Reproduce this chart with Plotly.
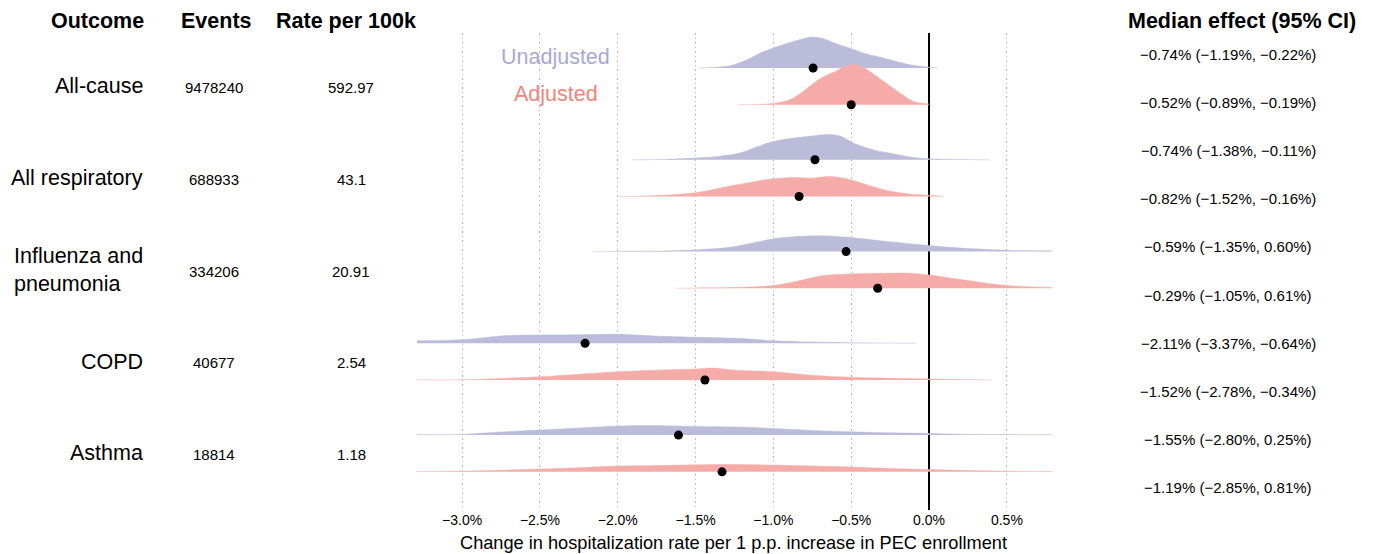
import plotly.graph_objects as go

# ---------------- data ----------------
outcomes = ["All-cause", "All respiratory", "Influenza and<br>pneumonia", "COPD", "Asthma"]
events = ["9478240", "688933", "334206", "40677", "18814"]
rates = ["592.97", "43.1", "20.91", "2.54", "1.18"]
ci_labels = [
    "\u22120.74% (\u22121.19%, \u22120.22%)",
    "\u22120.52% (\u22120.89%, \u22120.19%)",
    "\u22120.74% (\u22121.38%, \u22120.11%)",
    "\u22120.82% (\u22121.52%, \u22120.16%)",
    "\u22120.59% (\u22121.35%, 0.60%)",
    "\u22120.29% (\u22121.05%, 0.61%)",
    "\u22122.11% (\u22123.37%, \u22120.64%)",
    "\u22121.52% (\u22122.78%, \u22120.34%)",
    "\u22121.55% (\u22122.80%, 0.25%)",
    "\u22121.19% (\u22122.85%, 0.81%)",
]
tick_vals = [-3.0, -2.5, -2.0, -1.5, -1.0, -0.5, 0.0, 0.5]
tick_text = ["\u22123.0%", "\u22122.5%", "\u22122.0%", "\u22121.5%", "\u22121.0%", "\u22120.5%", "0.0%", "0.5%"]

# point estimates (dots), per outcome
dot_unadj = [-0.745, -0.733, -0.533, -2.21, -1.61]
dot_adj = [-0.50, -0.835, -0.33, -1.44, -1.33]

# density curves (x in %, relative density height)
unadj_x = [
    [-1.48, -1.28, -1.17, -1.07, -1.0, -0.89, -0.81, -0.745, -0.68, -0.59, -0.5, -0.40, -0.31, -0.23, -0.12, -0.015, 0.06],
    [-1.91, -1.69, -1.5, -1.36, -1.21, -1.11, -1.0, -0.87, -0.76, -0.64, -0.57, -0.49, -0.36, -0.23, -0.10, 0.0, 0.13, 0.39],
    [-2.16, -1.97, -1.65, -1.5, -1.28, -1.11, -1.0, -0.85, -0.68, -0.5, -0.31, -0.14, 0.0, 0.18, 0.5, 0.79],
    [-3.30, -3.0, -2.72, -2.5, -2.23, -2.0, -1.76, -1.5, -1.24, -1.0, -0.75, -0.5, -0.08],
    [-3.3, -3.0, -2.8, -2.5, -2.22, -2.0, -1.84, -1.5, -1.2, -1.0, -0.75, -0.5, -0.25, 0.0, 0.26, 0.5, 0.79],
]
unadj_h = [
    [0, 2.3, 8.3, 16, 20, 25.7, 29.3, 31, 29.3, 24, 19.3, 14, 10.7, 7.3, 3.3, 1, 0],
    [0, 0.5, 1.7, 3.3, 7, 12.7, 18.3, 21.7, 23.7, 25.3, 23.7, 17, 10, 6, 2.3, 1, 0.5, 0],
    [0, 0.3, 0.7, 1.7, 4.3, 9.3, 12.7, 15, 15.7, 14, 10.7, 8, 6, 3.7, 1.3, 0.7],
    [2.7, 3.7, 7.7, 8.3, 8.7, 9, 7.3, 6, 5, 2.7, 1.3, 0.7, 0],
    [0.5, 0.7, 2.7, 5, 7.3, 9, 9.7, 8.7, 8, 6.7, 4.7, 3.3, 2.3, 1.7, 0.7, 0.5, 0.3],
]
adj_x = [
    [-1.23, -1.0, -0.89, -0.83, -0.76, -0.70, -0.61, -0.51, -0.44, -0.36, -0.27, -0.18, -0.10, 0.0],
    [-2.0, -1.79, -1.5, -1.26, -1.04, -0.87, -0.76, -0.64, -0.53, -0.40, -0.27, -0.12, 0.03, 0.09],
    [-1.63, -1.5, -1.28, -1.0, -0.85, -0.68, -0.5, -0.29, -0.12, 0.0, 0.18, 0.5, 0.79],
    [-3.3, -3.0, -2.5, -2.0, -1.73, -1.5, -1.39, -1.24, -1.0, -0.75, -0.5, 0.0, 0.40],
    [-3.3, -3.0, -2.5, -2.22, -2.0, -1.74, -1.5, -1.26, -1.0, -0.75, -0.5, -0.25, 0.0, 0.26, 0.5, 0.79],
]
adj_h = [
    [0, 1.3, 5.3, 11, 19.3, 26, 32.7, 40, 38.7, 31, 21, 11, 3.3, 0.7],
    [0, 0.7, 3.7, 11, 17, 19, 18.3, 20, 17.7, 11.7, 6, 2.3, 1, 0],
    [0, 0.3, 0.7, 2.7, 7, 12.7, 14.3, 15, 15, 13.3, 9.3, 2.7, 1],
    [0.2, 0.3, 3.3, 8.3, 10, 11, 12, 9.7, 8.3, 4.7, 2.7, 1, 0],
    [0.2, 0.7, 2.7, 4.3, 5.7, 6.3, 7, 7.3, 6.7, 5.7, 4.7, 3.3, 2.3, 1.3, 0.7, 0.3],
]

# ---------------- style / layout ----------------
W, H = 1376, 554
FONT = "Liberation Sans, Arial, Helvetica, sans-serif"
UN_FILL, AD_FILL = "#BBBBDA", "#F5ACA8"
UN_TXT, AD_TXT = "#A8A8D4", "#F3827C"
GROUP_STEP, PAIR_OFF = 2.5, 1.0
HSCALE = 1 / 36.7          # density height -> y units


def px_x(p):
    return p / W


def px_y(p):
    return 1 - p / H


fig = go.Figure()

for k in range(len(outcomes)):
    for xs, hs, off, col in ((unadj_x[k], unadj_h[k], 0.0, UN_FILL),
                              (adj_x[k], adj_h[k], PAIR_OFF, AD_FILL)):
        base = -(k * GROUP_STEP + off)
        fig.add_trace(go.Scatter(x=[xs[0], xs[-1]], y=[base, base], mode="lines",
                                 line=dict(width=0, color=col), hoverinfo="skip",
                                 showlegend=False))
        fig.add_trace(go.Scatter(x=xs, y=[base + h * HSCALE for h in hs], mode="lines",
                                 line=dict(width=0.5, color=col, shape="spline", smoothing=0.9),
                                 fill="tonexty", fillcolor=col, hoverinfo="skip",
                                 showlegend=False))

# dots
dx, dy = [], []
for k in range(len(outcomes)):
    dx += [dot_unadj[k], dot_adj[k]]
    dy += [-(k * GROUP_STEP), -(k * GROUP_STEP + PAIR_OFF)]
fig.add_trace(go.Scatter(x=dx, y=dy, mode="markers",
                         marker=dict(color="black", size=9), showlegend=False,
                         cliponaxis=False, hoverinfo="skip"))

ann = []
# headers
for txt, xc in (("Outcome", 97), ("Events", 216), ("Rate per 100k", 346),
                ("Median effect (95% CI)", 1242)):
    ann.append(dict(text="<b>%s</b>" % txt, x=px_x(xc), y=px_y(21), xref="paper", yref="paper",
                    showarrow=False, xanchor="center", yanchor="middle",
                    font=dict(size=21.5, color="black")))

for k in range(len(outcomes)):
    ymid = -(k * GROUP_STEP + PAIR_OFF / 2)
    ann.append(dict(text=outcomes[k], x=px_x(145), y=ymid, xref="paper", yref="y",
                    showarrow=False, xanchor="right", yanchor="middle", align="left",
                    font=dict(size=21.5, color="black")))
    ann.append(dict(text=events[k], x=px_x(214), y=ymid - 0.03, xref="paper", yref="y",
                    showarrow=False, xanchor="center", yanchor="middle",
                    font=dict(size=15, color="black")))
    ann.append(dict(text=rates[k], x=px_x(351), y=ymid - 0.03, xref="paper", yref="y",
                    showarrow=False, xanchor="center", yanchor="middle",
                    font=dict(size=15, color="black")))

for i, t in enumerate(ci_labels):
    ann.append(dict(text=t, x=px_x(1228), y=px_y(54 + i * 48.2), xref="paper", yref="paper",
                    showarrow=False, xanchor="center", yanchor="middle",
                    font=dict(size=15, color="black")))

ann.append(dict(text="Unadjusted", x=-2.40, y=0.30, xref="x", yref="y", showarrow=False,
                xanchor="center", yanchor="middle", font=dict(size=21.5, color=UN_TXT)))
ann.append(dict(text="Adjusted", x=-2.40, y=-0.71, xref="x", yref="y", showarrow=False,
                xanchor="center", yanchor="middle", font=dict(size=21.5, color=AD_TXT)))

ann.append(dict(text="Change in hospitalization rate per 1 p.p. increase in PEC enrollment",
                x=px_x(734), y=px_y(543), xref="paper", yref="paper", showarrow=False,
                xanchor="center", yanchor="middle", font=dict(size=18.2, color="black")))

fig.update_layout(
    width=W, height=H, margin=dict(l=0, r=0, t=0, b=0),
    paper_bgcolor="white", plot_bgcolor="white",
    font=dict(family=FONT, color="black"),
    annotations=ann,
    hovermode=False,
    xaxis=dict(domain=[px_x(417), px_x(1052)], range=[-3.29, 0.79],
               tickvals=tick_vals, ticktext=tick_text, ticks="",
               tickfont=dict(size=14, color="black"),
               showgrid=True, gridcolor="#BDBDBD", griddash="1.5px,3px", gridwidth=1,
               zeroline=True, zerolinecolor="black", zerolinewidth=2,
               showline=False, fixedrange=True),
    yaxis=dict(domain=[px_y(510), px_y(33)], range=[-12.04, 0.954],
               showticklabels=False, showgrid=False, zeroline=False, showline=False,
               fixedrange=True),
)

fig.write_html("out.html", config={"displayModeBar": False, "staticPlot": True},
               post_script="document.body.style.margin='0';document.body.style.overflow='hidden';")
